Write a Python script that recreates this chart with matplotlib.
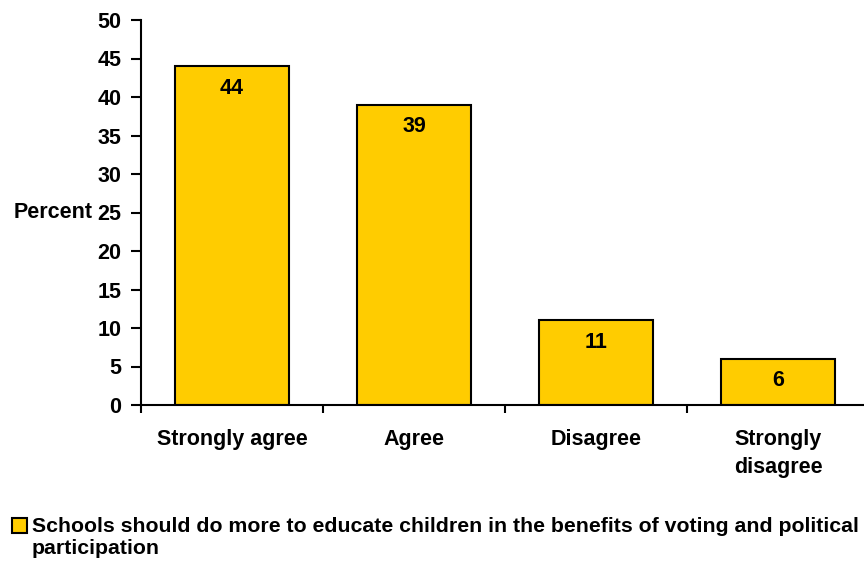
import matplotlib.pyplot as plt
from matplotlib.ticker import FixedLocator
from matplotlib.patches import Rectangle
from matplotlib.legend_handler import HandlerPatch

plt.rcParams['font.family'] = ['Liberation Sans', 'DejaVu Sans']
plt.rcParams['font.weight'] = 'bold'

# survey answers, percent
categories = ['Strongly agree', 'Agree', 'Disagree', 'Strongly\ndisagree']
values = [44, 39, 11, 6]
series_name = ('Schools should do more to educate children in the benefits of voting and political\n'
               'participation')

fs = 15.5

fig = plt.figure(figsize=(8.64, 5.63), dpi=100)
# axes runs a little past the right edge, like the original
ax = fig.add_axes([141 / 864, 1 - 405 / 563, 728 / 864, 385 / 563])

x = list(range(len(values)))
bars = ax.bar(x, values, width=0.626, color='#FFCC00', edgecolor='black',
              linewidth=1.5, label=series_name, zorder=2)

for xi, v in zip(x, values):
    ax.annotate(str(v), (xi, v), xytext=(0, -22), textcoords='offset pixels',
                ha='center', va='center', fontsize=fs, fontweight='bold')

ax.set_xlim(-0.5, len(values) - 0.5)
ax.set_ylim(0, 50)
ax.set_yticks(range(0, 51, 5))
ax.set_xticks(x)
ax.set_xticklabels(categories, fontsize=fs, fontweight='bold', va='top',
                   linespacing=1.45)
ax.xaxis.set_minor_locator(FixedLocator([i - 0.5 for i in range(len(values) + 1)]))
ax.tick_params(axis='x', which='major', length=0, pad=17)
ax.tick_params(axis='x', which='minor', length=6, width=1.5, direction='out')
ax.tick_params(axis='y', length=7, width=1.5, direction='out', pad=7, labelsize=fs)
for lab in ax.get_yticklabels():
    lab.set_fontweight('bold')

for side in ['top', 'right']:
    ax.spines[side].set_visible(False)
for side in ['left', 'bottom']:
    ax.spines[side].set_linewidth(1.5)

ax.set_ylabel('Percent', rotation=0, ha='right', va='center', fontsize=fs,
              fontweight='bold')
ax.yaxis.set_label_coords(-0.066, 0.5)


# legend square sits next to the first text line, not the middle of both
def first_line_square(legend, orig_handle, xdescent, ydescent, width, height, fontsize):
    side = 10.5
    return Rectangle((-xdescent, -ydescent + height - side + 8.5), side, side)


def copy_bar_style(legend_handle, orig_handle):
    legend_handle.update_from(orig_handle.patches[0])


leg = fig.legend(loc='upper left', bbox_to_anchor=(0.014, 1 - 517 / 563), frameon=False,
                 prop={'size': 15.3, 'weight': 'bold'}, handlelength=0.72, handleheight=0.72,
                 handletextpad=0.2, borderaxespad=0, borderpad=0.0,
                 handler_map={type(bars): HandlerPatch(patch_func=first_line_square,
                                                       update_func=copy_bar_style)})
for t in leg.get_texts():
    t.set_linespacing(1.2)

fig.savefig('out.png', dpi=100)
